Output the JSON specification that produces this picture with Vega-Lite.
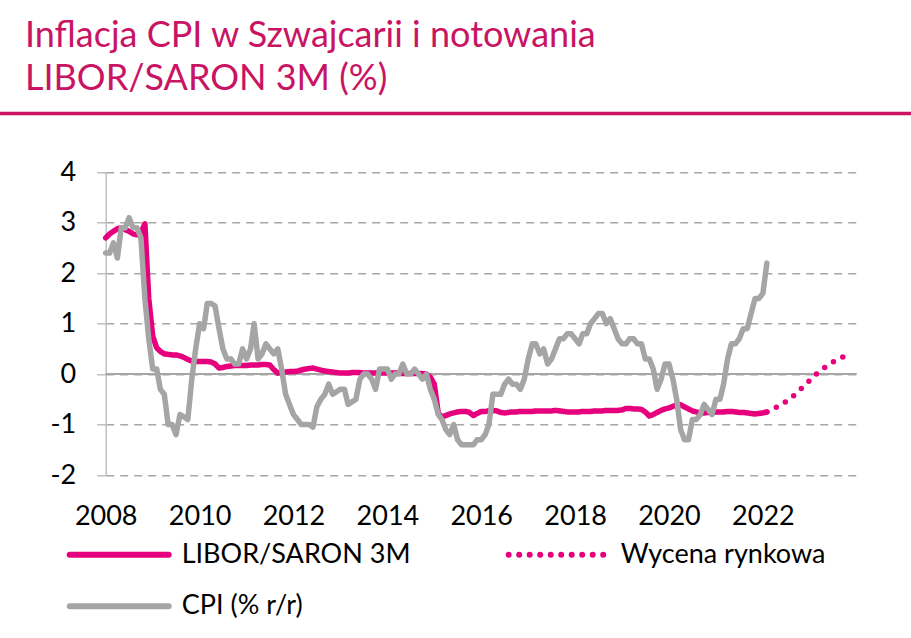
{
  "$schema": "https://vega.github.io/schema/vega-lite/v6.json",
  "width": 751,
  "height": 302.7,
  "padding": {"left": 105.7, "top": 172.3, "right": 54.3, "bottom": 163},
  "autosize": {"type": "none"},
  "background": "white",
  "title": {
    "text": ["Inflacja CPI w Szwajcarii i notowania", "LIBOR/SARON 3M (%)"],
    "anchor": "start",
    "frame": "group",
    "dx": -80.7,
    "offset": 14,
    "fontSize": 36,
    "lineHeight": 43,
    "font": "Lato",
    "fontWeight": "normal",
    "color": "#C81463"
  },
  "datasets": {
    "main": [
      {"d": "2008-01", "libor": 2.70, "cpi": 2.4}, {"d": "2008-02", "libor": 2.78, "cpi": 2.4}, {"d": "2008-03", "libor": 2.83, "cpi": 2.6}, {"d": "2008-04", "libor": 2.88, "cpi": 2.3}, {"d": "2008-05", "libor": 2.90, "cpi": 2.9}, {"d": "2008-06", "libor": 2.86, "cpi": 2.9}, {"d": "2008-07", "libor": 2.83, "cpi": 3.1}, {"d": "2008-08", "libor": 2.78, "cpi": 2.9}, {"d": "2008-09", "libor": 2.76, "cpi": 2.9}, {"d": "2008-10", "libor": 2.80, "cpi": 2.7}, {"d": "2008-11", "libor": 2.98, "cpi": 1.5}, {"d": "2008-12", "libor": 1.50, "cpi": 0.7},
      {"d": "2009-01", "libor": 0.75, "cpi": 0.1}, {"d": "2009-02", "libor": 0.52, "cpi": 0.1}, {"d": "2009-03", "libor": 0.45, "cpi": -0.3}, {"d": "2009-04", "libor": 0.40, "cpi": -0.4}, {"d": "2009-05", "libor": 0.39, "cpi": -1.0}, {"d": "2009-06", "libor": 0.38, "cpi": -1.0}, {"d": "2009-07", "libor": 0.38, "cpi": -1.2}, {"d": "2009-08", "libor": 0.36, "cpi": -0.8}, {"d": "2009-09", "libor": 0.33, "cpi": -0.85}, {"d": "2009-10", "libor": 0.29, "cpi": -0.9}, {"d": "2009-11", "libor": 0.26, "cpi": -0.1}, {"d": "2009-12", "libor": 0.25, "cpi": 0.5},
      {"d": "2010-01", "libor": 0.25, "cpi": 1.0}, {"d": "2010-02", "libor": 0.25, "cpi": 0.9}, {"d": "2010-03", "libor": 0.25, "cpi": 1.4}, {"d": "2010-04", "libor": 0.24, "cpi": 1.4}, {"d": "2010-05", "libor": 0.20, "cpi": 1.35}, {"d": "2010-06", "libor": 0.12, "cpi": 0.9}, {"d": "2010-07", "libor": 0.13, "cpi": 0.5}, {"d": "2010-08", "libor": 0.15, "cpi": 0.3}, {"d": "2010-09", "libor": 0.16, "cpi": 0.3}, {"d": "2010-10", "libor": 0.17, "cpi": 0.2}, {"d": "2010-11", "libor": 0.17, "cpi": 0.2}, {"d": "2010-12", "libor": 0.17, "cpi": 0.5},
      {"d": "2011-01", "libor": 0.17, "cpi": 0.3}, {"d": "2011-02", "libor": 0.18, "cpi": 0.5}, {"d": "2011-03", "libor": 0.18, "cpi": 1.0}, {"d": "2011-04", "libor": 0.18, "cpi": 0.3}, {"d": "2011-05", "libor": 0.19, "cpi": 0.4}, {"d": "2011-06", "libor": 0.19, "cpi": 0.6}, {"d": "2011-07", "libor": 0.18, "cpi": 0.5}, {"d": "2011-08", "libor": 0.09, "cpi": 0.4}, {"d": "2011-09", "libor": 0.02, "cpi": 0.5}, {"d": "2011-10", "libor": 0.03, "cpi": 0.1}, {"d": "2011-11", "libor": 0.04, "cpi": -0.4}, {"d": "2011-12", "libor": 0.05, "cpi": -0.6},
      {"d": "2012-01", "libor": 0.05, "cpi": -0.8}, {"d": "2012-02", "libor": 0.06, "cpi": -0.9}, {"d": "2012-03", "libor": 0.08, "cpi": -1.0}, {"d": "2012-04", "libor": 0.10, "cpi": -1.0}, {"d": "2012-05", "libor": 0.11, "cpi": -1.0}, {"d": "2012-06", "libor": 0.12, "cpi": -1.05}, {"d": "2012-07", "libor": 0.10, "cpi": -0.65}, {"d": "2012-08", "libor": 0.08, "cpi": -0.5}, {"d": "2012-09", "libor": 0.06, "cpi": -0.4}, {"d": "2012-10", "libor": 0.05, "cpi": -0.2}, {"d": "2012-11", "libor": 0.04, "cpi": -0.4}, {"d": "2012-12", "libor": 0.03, "cpi": -0.35},
      {"d": "2013-01", "libor": 0.02, "cpi": -0.3}, {"d": "2013-02", "libor": 0.02, "cpi": -0.3}, {"d": "2013-03", "libor": 0.02, "cpi": -0.6}, {"d": "2013-04", "libor": 0.03, "cpi": -0.55}, {"d": "2013-05", "libor": 0.03, "cpi": -0.5}, {"d": "2013-06", "libor": 0.03, "cpi": -0.1}, {"d": "2013-07", "libor": 0.02, "cpi": 0.0}, {"d": "2013-08", "libor": 0.02, "cpi": 0.0}, {"d": "2013-09", "libor": 0.02, "cpi": -0.1}, {"d": "2013-10", "libor": 0.02, "cpi": -0.3}, {"d": "2013-11", "libor": 0.02, "cpi": 0.1}, {"d": "2013-12", "libor": 0.02, "cpi": 0.1},
      {"d": "2014-01", "libor": 0.02, "cpi": 0.1}, {"d": "2014-02", "libor": 0.02, "cpi": -0.1}, {"d": "2014-03", "libor": 0.02, "cpi": 0.0}, {"d": "2014-04", "libor": 0.02, "cpi": 0.0}, {"d": "2014-05", "libor": 0.01, "cpi": 0.2}, {"d": "2014-06", "libor": 0.01, "cpi": 0.0}, {"d": "2014-07", "libor": 0.01, "cpi": 0.0}, {"d": "2014-08", "libor": 0.01, "cpi": 0.1}, {"d": "2014-09", "libor": 0.01, "cpi": 0.0}, {"d": "2014-10", "libor": 0.01, "cpi": -0.1}, {"d": "2014-11", "libor": 0.00, "cpi": 0.0}, {"d": "2014-12", "libor": -0.06, "cpi": -0.3},
      {"d": "2015-01", "libor": -0.20, "cpi": -0.5}, {"d": "2015-02", "libor": -0.78, "cpi": -0.8}, {"d": "2015-03", "libor": -0.85, "cpi": -0.9}, {"d": "2015-04", "libor": -0.82, "cpi": -1.1}, {"d": "2015-05", "libor": -0.79, "cpi": -1.2}, {"d": "2015-06", "libor": -0.77, "cpi": -1.0}, {"d": "2015-07", "libor": -0.75, "cpi": -1.3}, {"d": "2015-08", "libor": -0.74, "cpi": -1.4}, {"d": "2015-09", "libor": -0.74, "cpi": -1.4}, {"d": "2015-10", "libor": -0.76, "cpi": -1.4}, {"d": "2015-11", "libor": -0.82, "cpi": -1.4}, {"d": "2015-12", "libor": -0.78, "cpi": -1.3},
      {"d": "2016-01", "libor": -0.74, "cpi": -1.3}, {"d": "2016-02", "libor": -0.74, "cpi": -1.2}, {"d": "2016-03", "libor": -0.73, "cpi": -1.0}, {"d": "2016-04", "libor": -0.72, "cpi": -0.4}, {"d": "2016-05", "libor": -0.73, "cpi": -0.4}, {"d": "2016-06", "libor": -0.76, "cpi": -0.4}, {"d": "2016-07", "libor": -0.77, "cpi": -0.2}, {"d": "2016-08", "libor": -0.76, "cpi": -0.1}, {"d": "2016-09", "libor": -0.75, "cpi": -0.2}, {"d": "2016-10", "libor": -0.75, "cpi": -0.2}, {"d": "2016-11", "libor": -0.74, "cpi": -0.3}, {"d": "2016-12", "libor": -0.74, "cpi": -0.1},
      {"d": "2017-01", "libor": -0.74, "cpi": 0.3}, {"d": "2017-02", "libor": -0.74, "cpi": 0.6}, {"d": "2017-03", "libor": -0.73, "cpi": 0.6}, {"d": "2017-04", "libor": -0.73, "cpi": 0.4}, {"d": "2017-05", "libor": -0.73, "cpi": 0.5}, {"d": "2017-06", "libor": -0.73, "cpi": 0.2}, {"d": "2017-07", "libor": -0.73, "cpi": 0.3}, {"d": "2017-08", "libor": -0.72, "cpi": 0.5}, {"d": "2017-09", "libor": -0.73, "cpi": 0.7}, {"d": "2017-10", "libor": -0.74, "cpi": 0.7}, {"d": "2017-11", "libor": -0.75, "cpi": 0.8}, {"d": "2017-12", "libor": -0.75, "cpi": 0.8},
      {"d": "2018-01", "libor": -0.75, "cpi": 0.7}, {"d": "2018-02", "libor": -0.75, "cpi": 0.6}, {"d": "2018-03", "libor": -0.74, "cpi": 0.8}, {"d": "2018-04", "libor": -0.74, "cpi": 0.8}, {"d": "2018-05", "libor": -0.74, "cpi": 1.0}, {"d": "2018-06", "libor": -0.73, "cpi": 1.1}, {"d": "2018-07", "libor": -0.73, "cpi": 1.2}, {"d": "2018-08", "libor": -0.73, "cpi": 1.2}, {"d": "2018-09", "libor": -0.72, "cpi": 1.0}, {"d": "2018-10", "libor": -0.72, "cpi": 1.1}, {"d": "2018-11", "libor": -0.72, "cpi": 0.9}, {"d": "2018-12", "libor": -0.72, "cpi": 0.7},
      {"d": "2019-01", "libor": -0.71, "cpi": 0.6}, {"d": "2019-02", "libor": -0.68, "cpi": 0.6}, {"d": "2019-03", "libor": -0.68, "cpi": 0.7}, {"d": "2019-04", "libor": -0.69, "cpi": 0.7}, {"d": "2019-05", "libor": -0.69, "cpi": 0.6}, {"d": "2019-06", "libor": -0.70, "cpi": 0.6}, {"d": "2019-07", "libor": -0.75, "cpi": 0.3}, {"d": "2019-08", "libor": -0.83, "cpi": 0.3}, {"d": "2019-09", "libor": -0.80, "cpi": 0.1}, {"d": "2019-10", "libor": -0.76, "cpi": -0.3}, {"d": "2019-11", "libor": -0.72, "cpi": -0.1}, {"d": "2019-12", "libor": -0.69, "cpi": 0.2},
      {"d": "2020-01", "libor": -0.67, "cpi": 0.2}, {"d": "2020-02", "libor": -0.64, "cpi": -0.1}, {"d": "2020-03", "libor": -0.61, "cpi": -0.5}, {"d": "2020-04", "libor": -0.61, "cpi": -1.1}, {"d": "2020-05", "libor": -0.65, "cpi": -1.3}, {"d": "2020-06", "libor": -0.69, "cpi": -1.3}, {"d": "2020-07", "libor": -0.73, "cpi": -0.9}, {"d": "2020-08", "libor": -0.75, "cpi": -0.9}, {"d": "2020-09", "libor": -0.77, "cpi": -0.8}, {"d": "2020-10", "libor": -0.77, "cpi": -0.6}, {"d": "2020-11", "libor": -0.76, "cpi": -0.7}, {"d": "2020-12", "libor": -0.76, "cpi": -0.8},
      {"d": "2021-01", "libor": -0.75, "cpi": -0.5}, {"d": "2021-02", "libor": -0.75, "cpi": -0.5}, {"d": "2021-03", "libor": -0.75, "cpi": -0.2}, {"d": "2021-04", "libor": -0.74, "cpi": 0.3}, {"d": "2021-05", "libor": -0.74, "cpi": 0.6}, {"d": "2021-06", "libor": -0.75, "cpi": 0.6}, {"d": "2021-07", "libor": -0.76, "cpi": 0.7}, {"d": "2021-08", "libor": -0.76, "cpi": 0.9}, {"d": "2021-09", "libor": -0.77, "cpi": 0.9}, {"d": "2021-10", "libor": -0.78, "cpi": 1.2}, {"d": "2021-11", "libor": -0.79, "cpi": 1.5}, {"d": "2021-12", "libor": -0.78, "cpi": 1.5},
      {"d": "2022-01", "libor": -0.77, "cpi": 1.6}, {"d": "2022-02", "libor": -0.75, "cpi": 2.2, "wycena": -0.75},
      {"d": "2022-06", "wycena": -0.60}, {"d": "2022-09", "wycena": -0.42}, {"d": "2022-12", "wycena": -0.20}, {"d": "2023-03", "wycena": 0.02}, {"d": "2023-06", "wycena": 0.20}, {"d": "2023-09", "wycena": 0.33}, {"d": "2023-11", "wycena": 0.38}
    ]
  },
  "config": {
    "view": {"stroke": null},
    "axis": {"labelFont": "Lato", "labelColor": "#000000", "labelFontSize": 27, "title": null},
    "legend": {
      "orient": "none",
      "direction": "horizontal",
      "columns": 2,
      "symbolType": "M-2,0L2,0",
      "symbolSize": 2450,
      "symbolStrokeWidth": 6,
      "labelFont": "Lato",
      "labelFontSize": 27,
      "labelColor": "#000000",
      "labelLimit": 500,
      "labelOffset": 34.5,
      "columnPadding": 85,
      "rowPadding": 10.5,
      "padding": 0
    }
  },
  "layer": [
    {
      "data": {"values": [{}]},
      "mark": {"type": "rule", "color": "#A6A6A6", "strokeWidth": 2},
      "encoding": {
        "y": {"datum": 0, "type": "quantitative", "scale": {"domain": [-2, 4]},
          "axis": {
            "values": [-2, -1, 0, 1, 2, 3, 4],
            "labelExpr": "'' + datum.value",
            "domain": true, "domainColor": "#BFBFBF", "domainWidth": 1.5,
            "ticks": true, "tickSize": 9, "tickColor": "#BFBFBF", "tickWidth": 1.5,
            "grid": true, "gridDash": [8, 6], "gridColor": "#A6A6A6", "gridWidth": 1.5,
            "labelPadding": 21
          }
        }
      }
    },
    {
      "data": {"name": "main"},
      "transform": [
        {"fold": ["libor", "wycena"], "as": ["s", "v"]},
        {"filter": "isValid(datum.v)"}
      ],
      "mark": {"type": "line", "strokeWidth": 5.5, "strokeCap": "round", "strokeJoin": "round"},
      "encoding": {
        "x": {"field": "d", "type": "temporal",
          "scale": {"type": "utc", "domain": [{"year": 2008, "month": 1, "date": 1, "utc": true}, {"year": 2024, "month": 1, "date": 1, "utc": true}]},
          "axis": {
            "values": [{"year": 2008, "utc": true}, {"year": 2010, "utc": true}, {"year": 2012, "utc": true}, {"year": 2014, "utc": true}, {"year": 2016, "utc": true}, {"year": 2018, "utc": true}, {"year": 2020, "utc": true}, {"year": 2022, "utc": true}],
            "format": "%Y", "domain": false, "ticks": false, "grid": false,
            "labelPadding": 28, "labelFlush": false, "labelOverlap": false, "labelBound": false
          }
        },
        "y": {"field": "v", "type": "quantitative", "scale": {"domain": [-2, 4]}},
        "color": {"field": "s", "type": "nominal",
          "scale": {"domain": ["libor", "wycena", "cpi"], "range": ["#E6007E", "#E6007E", "#A5A5A5"]},
          "legend": {
            "title": null, "legendX": -14.5, "legendY": 354.5,
            "labelExpr": "datum.label == 'libor' ? 'LIBOR/SARON 3M' : datum.label == 'wycena' ? 'Wycena rynkowa' : 'CPI (% r/r)'",
            "encode": {"symbols": {"update": {"strokeCap": {"value": "round"}}}}
          }
        },
        "strokeDash": {"field": "s", "type": "nominal",
          "scale": {"domain": ["libor", "wycena", "cpi"], "range": [[1, 0], [0, 10.5], [1, 0]]},
          "legend": {
            "title": null, "legendX": -14.5, "legendY": 354.5,
            "labelExpr": "datum.label == 'libor' ? 'LIBOR/SARON 3M' : datum.label == 'wycena' ? 'Wycena rynkowa' : 'CPI (% r/r)'",
            "encode": {"symbols": {"update": {"strokeCap": {"value": "round"}}}}
          }
        }
      }
    },
    {
      "data": {"name": "main"},
      "transform": [
        {"fold": ["cpi"], "as": ["s", "v"]},
        {"filter": "isValid(datum.v)"}
      ],
      "mark": {"type": "line", "strokeWidth": 5.5, "strokeCap": "round", "strokeJoin": "round"},
      "encoding": {
        "x": {"field": "d", "type": "temporal", "scale": {"type": "utc", "domain": [{"year": 2008, "month": 1, "date": 1, "utc": true}, {"year": 2024, "month": 1, "date": 1, "utc": true}]}},
        "y": {"field": "v", "type": "quantitative", "scale": {"domain": [-2, 4]}},
        "color": {"field": "s", "type": "nominal", "scale": {"domain": ["libor", "wycena", "cpi"], "range": ["#E6007E", "#E6007E", "#A5A5A5"]}},
        "strokeDash": {"field": "s", "type": "nominal", "scale": {"domain": ["libor", "wycena", "cpi"], "range": [[1, 0], [0, 10.5], [1, 0]]}}
      }
    },
    {
      "data": {"values": [{}]},
      "mark": {"type": "rule", "color": "#C81463", "strokeWidth": 3.5, "clip": false},
      "encoding": {
        "y": {"datum": 5.167, "type": "quantitative"},
        "x": {"datum": {"year": 2005, "month": 1, "date": 1, "utc": true}, "type": "temporal"},
        "x2": {"datum": {"year": 2027, "month": 1, "date": 1, "utc": true}}
      }
    }
  ]
}
